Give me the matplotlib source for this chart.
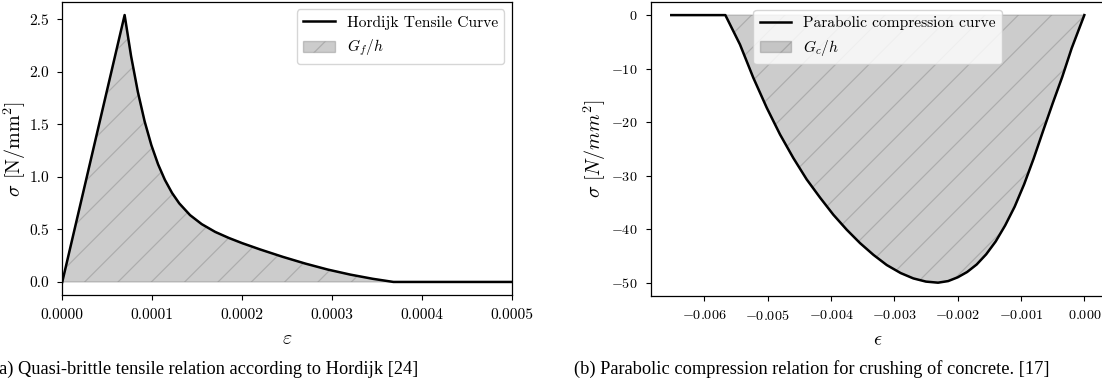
import matplotlib
matplotlib.use("Agg")
import matplotlib.pyplot as plt
from matplotlib.ticker import FuncFormatter

plt.rcParams['font.family'] = 'serif'
plt.rcParams['font.serif'] = ['cmr10']
plt.rcParams['mathtext.fontset'] = 'cm'
plt.rcParams['axes.formatter.use_mathtext'] = True
plt.rcParams['hatch.linewidth'] = 0.45

# Hordijk tensile softening curve
eps_t = [0.0, 0.0000693, 0.0000765, 0.0000840, 0.0000915, 0.0000990, 0.0001065,
         0.0001140, 0.0001220, 0.0001300, 0.0001420, 0.0001550, 0.0001700,
         0.0001850, 0.0002000, 0.0002200, 0.0002450, 0.0002700, 0.0002950,
         0.0003200, 0.0003450, 0.0003680, 0.0005000]
sig_t = [0.0, 2.540, 2.148, 1.809, 1.529, 1.302, 1.119, 0.972, 0.847, 0.748,
         0.636, 0.550, 0.476, 0.419, 0.369, 0.309, 0.239, 0.175, 0.118, 0.070,
         0.030, 0.0, 0.0]

# Parabolic compression curve
eps_c = [-0.006522, -0.005668, -0.005437, -0.005227, -0.005015, -0.004805,
         -0.004595, -0.004384, -0.004173, -0.003963, -0.003752, -0.003542,
         -0.003330, -0.003120, -0.002900, -0.002700, -0.002500, -0.002310,
         -0.002150, -0.002000, -0.001850, -0.001700, -0.001550, -0.001400,
         -0.001250, -0.001100, -0.000950, -0.000800, -0.000650, -0.000500,
         -0.000350, -0.000200, 0.0]
sig_c = [0.0, 0.0, -5.5, -11.7, -17.3, -22.3, -26.7, -30.7, -34.1, -37.3,
         -40.1, -42.6, -44.8, -46.7, -48.2, -49.2, -49.8, -50.0,
         -49.7, -49.0, -48.0, -46.6, -44.7, -42.3, -39.3, -35.8, -31.6,
         -26.8, -21.6, -16.5, -11.6, -6.2, 0.0]

fill_end_t = 22  # fill only up to the end of the softening branch

fig = plt.figure(figsize=(5.51, 1.925), dpi=200)
ax1 = fig.add_axes([0.0565, 0.233, 0.4083, 0.7626])
ax2 = fig.add_axes([0.5904, 0.231, 0.4123, 0.7645])

lw = 0.9
label_fs = 7.2
legend_fs = 5.6

# left: tensile
ax1.plot(eps_t, sig_t, color='black', lw=lw, label='Hordijk Tensile Curve')
ax1.fill_between(eps_t[:fill_end_t], sig_t[:fill_end_t], 0, facecolor='gray',
                 edgecolor='gray', alpha=0.4, hatch='//', lw=0.5, label='$G_f/h$')
ax1.set_xlim(0, 0.0005)
ax1.set_xticks([0, 0.0001, 0.0002, 0.0003, 0.0004, 0.0005])
ax1.xaxis.set_major_formatter(FuncFormatter(lambda v, p: f"{v:.4f}"))
ax1.yaxis.set_major_formatter(FuncFormatter(lambda v, p: f"{v:.1f}"))
ax1.set_xlabel(r'$\varepsilon$', fontsize=label_fs, labelpad=3)
ax1.set_ylabel(r'$\sigma$ $[\mathrm{N/mm^2}]$', fontsize=label_fs)
ax1.yaxis.set_label_coords(-0.076, 0.5)
leg1 = ax1.legend(loc='upper right', fontsize=legend_fs)
ax1.tick_params(labelsize=5.6)

# right: compression
ax2.plot(eps_c, sig_c, color='black', lw=lw, label='Parabolic compression curve')
ax2.fill_between(eps_c[1:], sig_c[1:], 0, facecolor='gray', edgecolor='gray',
                 alpha=0.4, hatch='//', lw=0.5, label='$G_c/h$')
ax2.set_xticks([-0.006, -0.005, -0.004, -0.003, -0.002, -0.001, 0.0])
ax2.xaxis.set_major_formatter(FuncFormatter(lambda v, p: f"${v:.3f}$"))
ax2.yaxis.set_major_formatter(FuncFormatter(lambda v, p: f"${v:.0f}$"))
ax2.set_xlabel(r'$\epsilon$', fontsize=label_fs, labelpad=3)
ax2.set_ylabel(r'$\sigma\ [N/mm^2]$', fontsize=label_fs)
ax2.yaxis.set_label_coords(-0.093, 0.5)
leg2 = ax2.legend(loc='upper center', fontsize=legend_fs)
ax2.tick_params(labelsize=5.1)

for leg in (leg1, leg2):
    leg.get_frame().set_linewidth(0.5)

for ax in (ax1, ax2):
    ax.tick_params(length=1.75, width=0.4, pad=3)
    for s in ax.spines.values():
        s.set_linewidth(0.45)

fig.text(-0.006, 0.029, "(a) Quasi-brittle tensile relation according to Hordijk [24]",
         family='Liberation Serif', fontsize=6.6, ha='left', va='baseline')
fig.text(0.737, 0.029, "(b) Parabolic compression relation for crushing of concrete. [17]",
         family='Liberation Serif', fontsize=6.6, ha='center', va='baseline')

fig.savefig('out.png', dpi=200)
